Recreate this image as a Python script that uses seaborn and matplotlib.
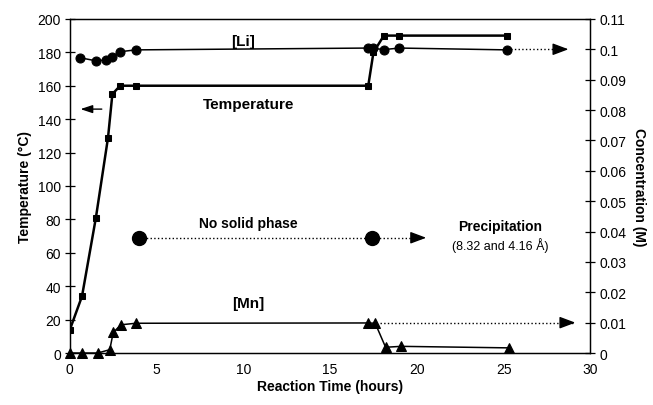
import matplotlib
matplotlib.use("Agg")
import matplotlib.pyplot as plt
import seaborn as sns
import pandas as pd

sns.set_theme(style="white")
plt.rcParams["font.family"] = ["Liberation Sans", "DejaVu Sans"]
plt.rcParams["text.color"] = "black"
plt.rcParams["axes.labelcolor"] = "black"

# Temperature profile (left axis, °C)
temp_time = [0.0, 0.7, 1.5, 2.2, 2.45, 2.9, 3.8, 17.2, 17.5, 18.1, 19.0, 25.2]
temp_vals = [14, 34, 81, 129, 155, 160, 160, 160, 180, 190, 190, 190]

# Lithium concentration (right axis, M)
li_time = [0.6, 1.5, 2.1, 2.4, 2.9, 3.8, 17.2, 17.5, 18.1, 19.0, 25.2]
li_vals = [0.0972, 0.0962, 0.0965, 0.0975, 0.0992, 0.0998, 0.1004, 0.1003, 0.0999, 0.1004, 0.0998]

# Manganese concentration (right axis, M)
mn_time = [0.0, 0.7, 1.6, 2.3, 2.5, 2.95, 3.8, 17.2, 17.6, 18.2, 19.1, 25.3]
mn_vals = [0.0, 0.0, 0.0, 0.0011, 0.0068, 0.0093, 0.0098, 0.0099, 0.0098, 0.0019, 0.0022, 0.0017]

temp_df = pd.DataFrame({"time": temp_time, "value": temp_vals})
li_df = pd.DataFrame({"time": li_time, "value": li_vals})
mn_df = pd.DataFrame({"time": mn_time, "value": mn_vals})

fig = plt.figure(figsize=(6.53, 4.06), dpi=100)
ax = fig.add_axes([0.107, 0.128, 0.797, 0.823])
ax2 = ax.twinx()

sns.lineplot(data=temp_df, x="time", y="value", ax=ax, sort=False, estimator=None,
             color="black", lw=1.8, marker="s", markersize=4.5, markeredgecolor="black")
sns.lineplot(data=li_df, x="time", y="value", ax=ax2, sort=False, estimator=None,
             color="black", lw=1.1, marker="o", markersize=6.5, markeredgecolor="black")
sns.lineplot(data=mn_df, x="time", y="value", ax=ax2, sort=False, estimator=None,
             color="black", lw=1.1, marker="^", markersize=7.5, markeredgecolor="black",
             clip_on=False)

ax.set_xlim(0, 30)
ax.set_ylim(0, 200)
ax2.set_ylim(0, 0.11)
ax.set_xticks(range(0, 31, 5))
ax.set_yticks(range(0, 201, 20))
conc_ticks = [i / 100 for i in range(12)]
ax2.set_yticks(conc_ticks)
ax2.set_yticklabels(["0"] + [f"{t:g}" for t in conc_ticks[1:]])

for a in (ax, ax2):
    for s in a.spines.values():
        s.set_color("black")
        s.set_linewidth(0.9)
    a.tick_params(direction="inout", length=7, width=0.9, labelsize=10, colors="black",
                  pad=3)

ax.set_xlabel("Reaction Time (hours)", fontsize=10, fontweight="bold", labelpad=2)
ax.set_ylabel("Temperature (°C)", fontsize=10, fontweight="bold", labelpad=4)
ax2.set_ylabel("Concentration (M)", fontsize=10, fontweight="bold", rotation=270, labelpad=14)

# Series labels
ax.text(10.0, 187, "[Li]", fontsize=11, fontweight="bold", ha="center", va="center")
ax.text(10.3, 149, "Temperature", fontsize=11, fontweight="bold", ha="center", va="center")
ax.text(10.3, 30, "[Mn]", fontsize=11, fontweight="bold", ha="center", va="center")

# Arrow pointing to the temperature axis
ax.annotate("", xy=(0.45, 146), xytext=(2.0, 146),
            arrowprops=dict(arrowstyle="-|>,head_length=0.6,head_width=0.2",
                            color="black", lw=1.0))

# Solid-phase timeline
ax.plot([4.0, 17.4], [69, 69], color="black", lw=1.0, ls=":")
ax.plot([17.4, 20.3], [69, 69], color="black", lw=1.0, ls=":")
ax.plot([4.0, 17.4], [69, 69], ls="none", marker="o", markersize=10, color="black")
ax.annotate("", xy=(20.7, 69), xytext=(20.0, 69),
            arrowprops=dict(arrowstyle="-|>,head_length=0.8,head_width=0.3",
                            color="black", lw=1.0))
ax.text(10.3, 78, "No solid phase", fontsize=10, fontweight="bold", ha="center", va="center")
ax.text(24.8, 76, "Precipitation", fontsize=10, fontweight="bold", ha="center", va="center")
ax.text(24.8, 65, "(8.32 and 4.16 Å)", fontsize=9, ha="center", va="center")

# Continuation arrows for the concentration series
ax2.plot([25.2, 28.5], [0.1, 0.1], color="black", lw=1.0, ls=":")
ax2.annotate("", xy=(28.9, 0.1), xytext=(28.3, 0.1),
             arrowprops=dict(arrowstyle="-|>,head_length=0.8,head_width=0.3",
                             color="black", lw=1.0))
ax2.plot([17.9, 29.0], [0.01, 0.01], color="black", lw=1.0, ls=":")
ax2.annotate("", xy=(29.3, 0.01), xytext=(28.7, 0.01),
             arrowprops=dict(arrowstyle="-|>,head_length=0.8,head_width=0.3",
                             color="black", lw=1.0))

fig.savefig("out.png", dpi=100)
